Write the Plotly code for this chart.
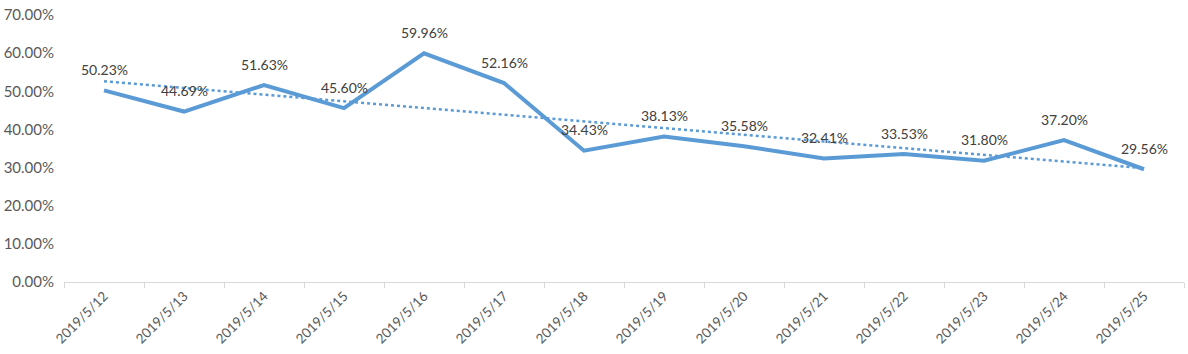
import numpy as np
import plotly.graph_objects as go

dates = ["2019/5/12", "2019/5/13", "2019/5/14", "2019/5/15", "2019/5/16", "2019/5/17", "2019/5/18",
         "2019/5/19", "2019/5/20", "2019/5/21", "2019/5/22", "2019/5/23", "2019/5/24", "2019/5/25"]
rates = [0.5023, 0.4469, 0.5163, 0.4560, 0.5996, 0.5216, 0.3443,
         0.3813, 0.3558, 0.3241, 0.3353, 0.3180, 0.3720, 0.2956]

idx = np.arange(len(rates))
slope, intercept = np.polyfit(idx, rates, 1)
trend = slope * idx + intercept

blue = "#5b9bd5"
fig = go.Figure()
fig.add_trace(go.Scatter(x=dates, y=trend, mode="lines",
                         line=dict(color=blue, width=2.5, dash="dot"), showlegend=False,
                         hoverinfo="skip"))
fig.add_trace(go.Scatter(x=dates, y=rates, mode="lines",
                         line=dict(color=blue, width=4),
                         showlegend=False))
for d, v in zip(dates, rates):
    fig.add_annotation(x=d, y=v, text=f"{v*100:.2f}%", showarrow=False,
                       yshift=21, font=dict(size=14, color="#404040", family="Lato"))

fig.update_layout(
    width=1188, height=354,
    margin=dict(l=64, r=4, t=15, b=72),
    plot_bgcolor="white", paper_bgcolor="white",
    font=dict(family="Lato", color="#595959", size=14),
)
fig.update_xaxes(type="category", range=[-0.5, 13.5], tickangle=-45,
                 showline=True, linecolor="#d9d9d9", linewidth=1,
                 ticks="outside", tickson="boundaries", ticklen=5, tickcolor="#d9d9d9",
                 showgrid=False, tickfont=dict(size=13.5, color="#595959"))
fig.update_yaxes(range=[0, 0.7], dtick=0.1, tickformat=".2%", showgrid=False,
                 zeroline=False, showline=False, ticks="", ticklen=0,
                 ticklabelstandoff=9,
                 tickfont=dict(size=15, color="#595959"))

fig.write_html("out.html")
